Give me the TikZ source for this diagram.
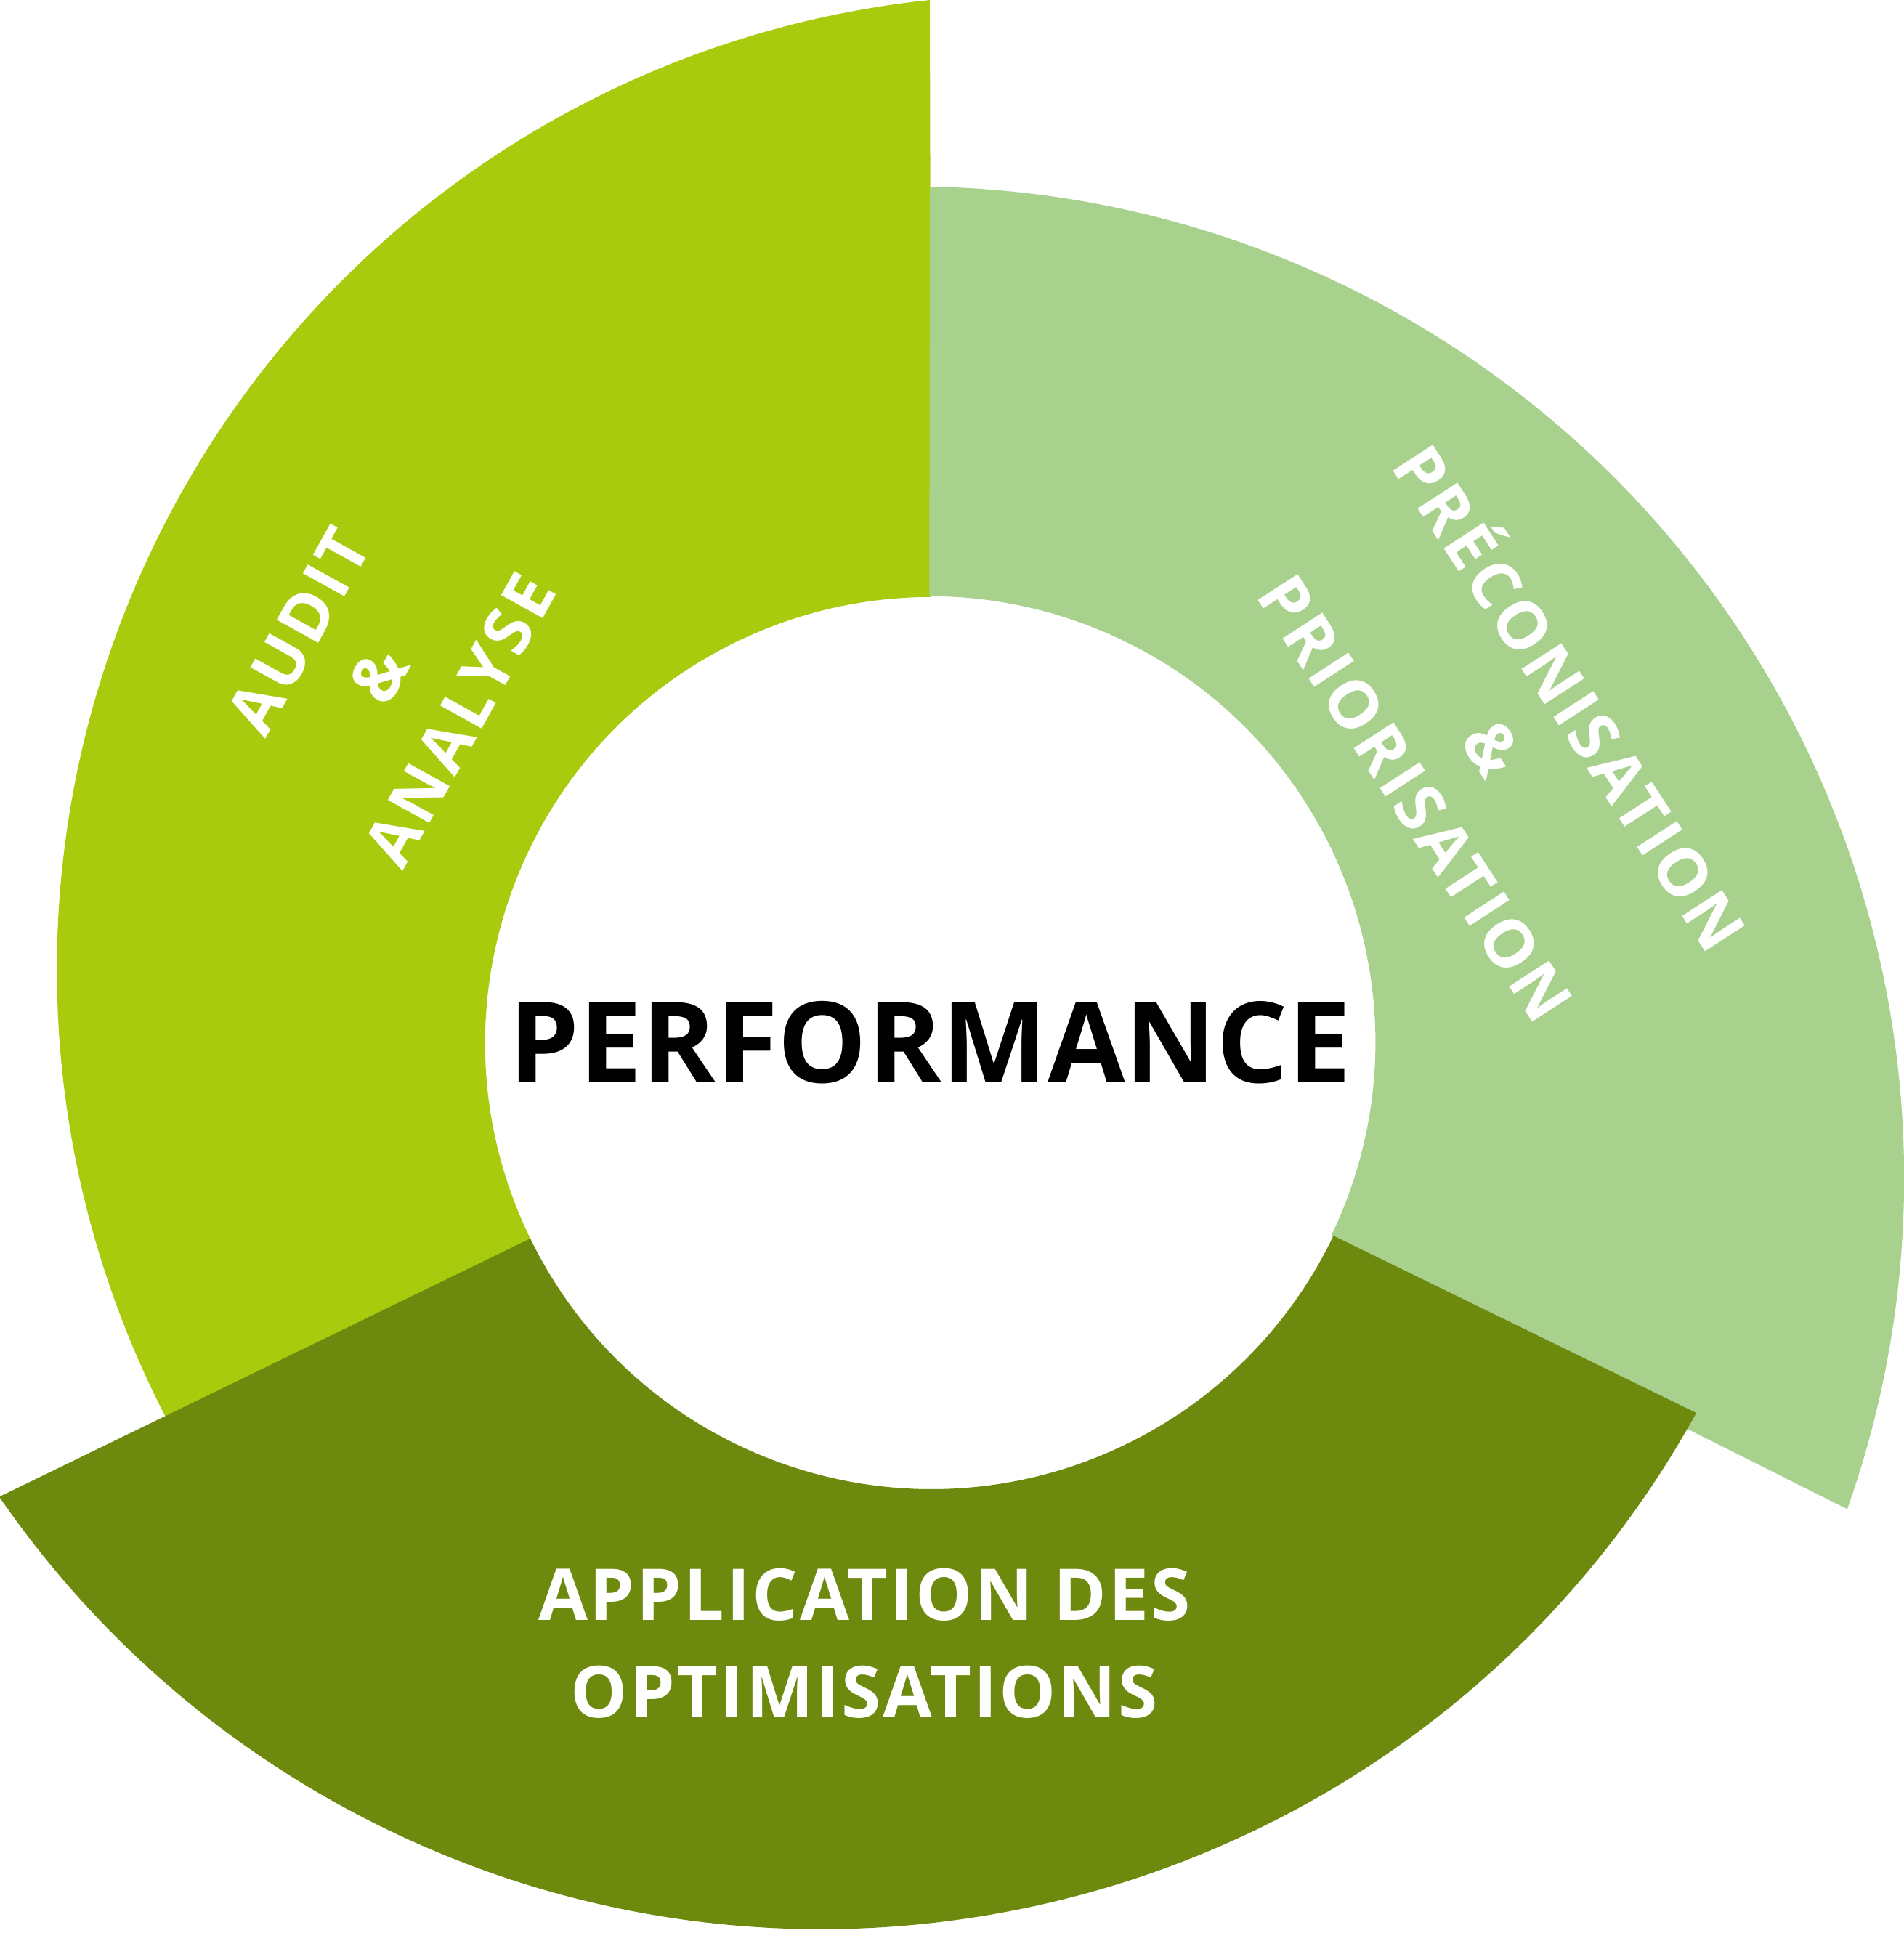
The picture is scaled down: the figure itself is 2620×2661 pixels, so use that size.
\documentclass[tikz,border=0pt]{standalone}
\usepackage{fontspec}
\setmainfont{Open Sans}
\newfontfamily\lblfont[LetterSpace=6]{Open Sans}
\newfontfamily\appfont[LetterSpace=3]{Open Sans}
\usetikzlibrary{positioning}
\definecolor{cAudit}{HTML}{A8CC0D}
\definecolor{cPreco}{HTML}{A8D18D}
\definecolor{cAppli}{HTML}{6E8A0E}
\tikzset{
  seglabel/.style={text=white, align=center, font=\lblfont\bfseries\fontsize{26}{36}\selectfont},
}
\begin{document}
\begin{tikzpicture}[x=0.01cm, y=-0.01cm]
\useasboundingbox (0,0) rectangle (2620,2661);
\def\rin{614}

% Outer segments (bottom one last, it covers the joins)
\fill[cAudit] (1280,0) arc[start angle=264, end angle=151.5, radius=1342]
  -- (700,1730) -- (730,1705)
  arc[start angle=154, end angle=270, radius=\rin] -- cycle;
\fill[cPreco] (1280,257) arc[start angle=271, end angle=379.5, radius=1365]
  -- (1850,1730) -- (1833,1700)
  arc[start angle=25.6, end angle=-90, radius=\rin] -- cycle;
\fill[cAppli] (0,2060) -- (730,1705)
  arc[start angle=154, end angle=25.6, radius=\rin]
  -- (2335,1945)
  arc[start angle=28.9, end angle=145.8, radius=1375] -- cycle;

% Texts
\node[font=\bfseries\fontsize{44}{50}\selectfont] (perf) at (1280,1435) {PERFORMANCE};
\node[seglabel, font=\appfont\bfseries\fontsize{28}{38}\selectfont] (appli) at (1190,2262) {APPLICATION DES\\OPTIMISATIONS};
\node[seglabel, rotate=61] (audit) at (522,930) {AUDIT\\\&\\ANALYSE};
\node[seglabel, rotate=-57] (preco) at (2062,1025) {PRÉCONISATION\\\&\\PRIORISATION};
\end{tikzpicture}
\end{document}
